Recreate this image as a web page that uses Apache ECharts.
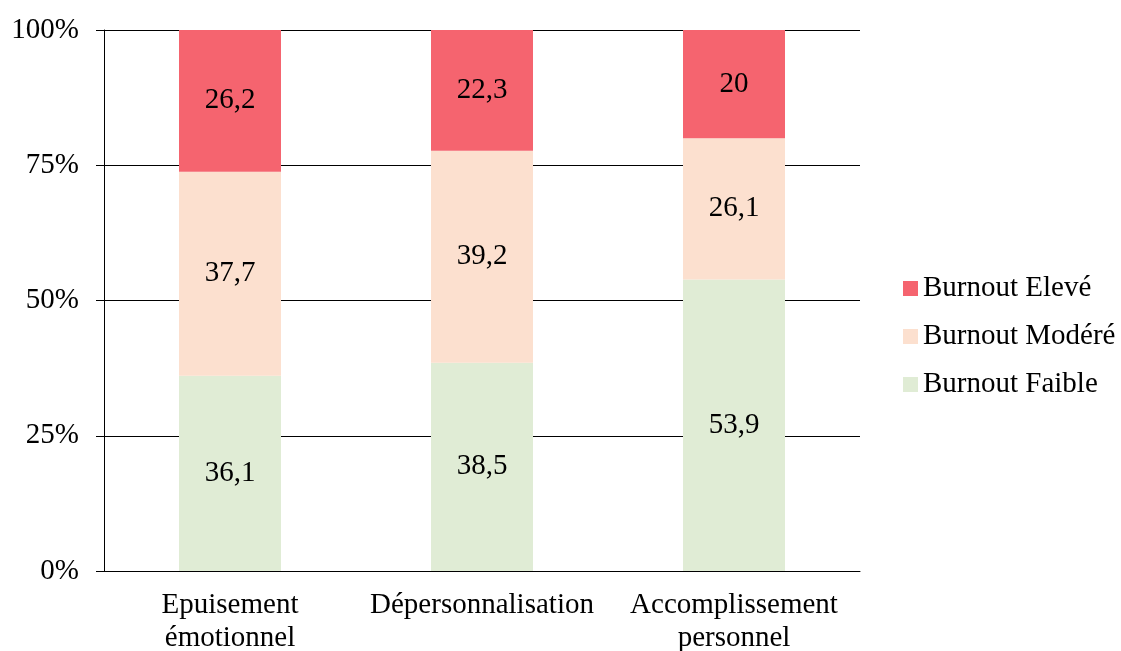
<!DOCTYPE html>
<html>
<head>
    <meta charset="utf-8">
    <title>burnout</title>
    <script src="https://cdn.jsdelivr.net/npm/echarts@6/dist/echarts.min.js"></script>
    <style>
        body { margin: 0; background: #fff; }
        #chart { width: 1121px; height: 651px; }
    </style>
</head>
<body>
    <div id="chart"></div>
    <script>
        var categories = ['Epuisement\némotionnel', 'Dépersonnalisation', 'Accomplissement\npersonnel'];
        var faible = [36.1, 38.5, 53.9];
        var modere = [37.7, 39.2, 26.1];
        var eleve = [26.2, 22.3, 20];
        var yTicks = [0, 25, 50, 75, 100];

        var font = 'Liberation Serif';
        var fs = 29;
        var lbl = {
            show: true,
            position: 'inside',
            color: '#000',
            fontFamily: font,
            fontSize: fs,
            formatter: function (p) { return String(p.value).replace('.', ','); }
        };

        var chart = echarts.init(document.getElementById('chart'));
        chart.setOption({
            animation: false,
            textStyle: { fontFamily: font },
            grid: { left: 104, right: 261, top: 30, bottom: 80, outerBoundsMode: 'none' },
            legend: {
                orient: 'vertical',
                left: 903,
                top: 274,
                padding: 0,
                itemWidth: 15,
                itemHeight: 15,
                itemGap: 19,
                icon: 'rect',
                textStyle: { fontFamily: font, fontSize: fs, lineHeight: 29, color: '#000' },
                data: ['Burnout Elevé', 'Burnout Modéré', 'Burnout Faible']
            },
            xAxis: {
                type: 'category',
                data: categories,
                axisLine: { lineStyle: { color: '#000' } },
                axisTick: { length: 8, lineStyle: { color: '#000' } },
                axisLabel: { interval: 0, color: '#000', fontFamily: font, fontSize: fs, lineHeight: 33, margin: 18 }
            },
            yAxis: {
                type: 'value',
                min: yTicks[0],
                max: yTicks[yTicks.length - 1],
                interval: 25,
                axisLine: { show: true, lineStyle: { color: '#000' } },
                axisTick: { show: true, length: 8, lineStyle: { color: '#000' } },
                axisLabel: { color: '#000', fontFamily: font, fontSize: fs, margin: 25, formatter: '{value}%' },
                splitLine: { lineStyle: { color: '#000' } }
            },
            series: [
                { name: 'Burnout Faible', type: 'bar', stack: 's', data: faible, barWidth: 102, itemStyle: { color: '#E0ECD5' }, label: lbl },
                { name: 'Burnout Modéré', type: 'bar', stack: 's', data: modere, barWidth: 102, itemStyle: { color: '#FCE0CF' }, label: lbl },
                { name: 'Burnout Elevé', type: 'bar', stack: 's', data: eleve, barWidth: 102, itemStyle: { color: '#F5646F' }, label: lbl }
            ]
        });
    </script>
</body>
</html>
